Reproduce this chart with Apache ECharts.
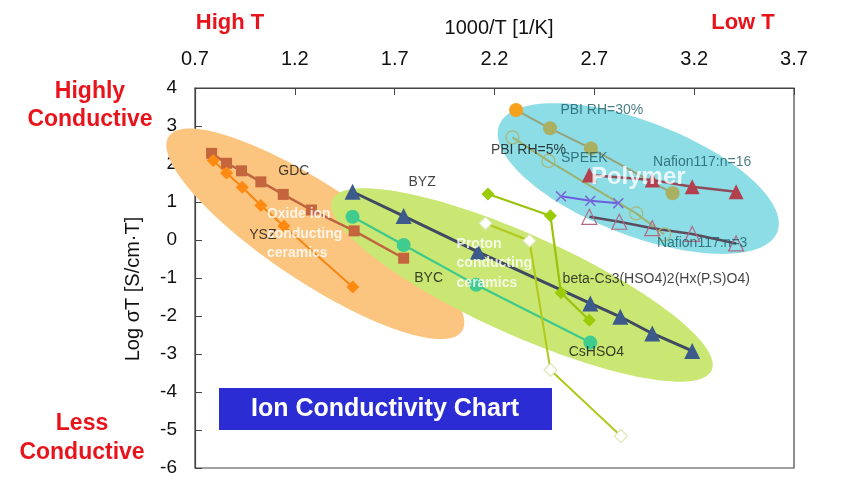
<!DOCTYPE html>
<html><head><meta charset="utf-8">
<script src="https://cdn.jsdelivr.net/npm/echarts@6/dist/echarts.min.js"></script>
<style>html,body{margin:0;padding:0;background:#fff}#c{width:846px;height:493px}</style>
</head><body><div id="c"></div>
<script>
// ---- axis ticks ----
const xTicks = [0.7, 1.2, 1.7, 2.2, 2.7, 3.2, 3.7];
const yTicks = [-6, -5, -4, -3, -2, -1, 0, 1, 2, 3, 4];

// ---- series values (x = 1000/T, y = log sigma T) ----
const gdcX = [0.783, 0.858, 0.933, 1.03, 1.142, 1.283, 1.497, 1.745];
const gdcY = [2.28, 2.02, 1.82, 1.53, 1.20, 0.79, 0.24, -0.48];
const yszX = [0.791, 0.858, 0.937, 1.03, 1.145, 1.49];
const yszY = [2.09, 1.76, 1.39, 0.91, 0.37, -1.24];
const byzX = [1.489, 1.745, 2.117, 2.68, 2.83, 2.99, 3.19];
const byzY = [1.27, 0.63, -0.31, -1.67, -2.02, -2.46, -2.92];
const cshso4X = [1.489, 1.745, 2.108, 2.68];
const cshso4Y = [0.61, -0.13, -1.18, -2.70];
const betaX = [2.167, 2.48, 2.533, 2.675];
const betaY = [1.21, 0.64, -1.39, -2.11];
const betaOpenX = [2.155, 2.375, 2.48, 2.833];
const betaOpenY = [0.44, -0.02, -3.42, -5.16];
const pbi30X = [2.308, 2.478, 2.683, 3.092];
const pbi30Y = [3.42, 2.94, 2.41, 1.23];
const pbi5X = [2.29, 2.47, 2.91, 3.05];
const pbi5Y = [2.70, 2.08, 0.70, 0.15];
const speekX = [2.533, 2.68, 2.82];
const speekY = [1.15, 1.03, 0.97];
const naf16X = [2.675, 2.99, 3.19, 3.41];
const naf16Y = [1.71, 1.58, 1.40, 1.27];
const naf3X = [2.675, 2.825, 2.99, 3.19, 3.41];
const naf3Y = [0.61, 0.48, 0.31, 0.16, -0.09];

// ---- annotation labels (anchored in data units) ----
const labelNames = ['GDC', 'YSZ', 'BYZ', 'BYC', 'PBI RH=30%', 'PBI RH=5%', 'SPEEK', 'Nafion117:n=16', 'Nafion117:n=3', 'beta-Cs3(HSO4)2(Hx(P,S)O4)', 'CsHSO4'];
const labelX = [1.195, 1.04, 1.8375, 1.87, 2.7375, 2.37, 2.65, 3.24, 3.24, 3.01, 2.71];
const labelY = [1.80, 0.13, 1.53, -1.01, 3.42, 2.37, 2.15, 2.06, -0.09, -1.03, -2.94];
const regionNames = ['Oxide ion\nconducting\nceramics', 'Proton\nconducting\nceramics', 'Polymer'];
const regionX = [1.06, 2.01, 2.92];
const regionY = [0.16, -0.62, 1.66];

// ---- decorative group ellipses (centre in data units) ----
const ellipseCX = [1.3025, 2.3375, 2.92];
const ellipseCY = [0.163, -1.184, 1.618];
const ellipseStyle = [
  {rx: 176, ry: 48, rot: 33.6, color: '#fcc57f'},
  {rx: 208, ry: 50, rot: 24.2, color: '#c9e772'},
  {rx: 149, ry: 57, rot: 21.0, color: '#8cdde6'}
];

const zip = (xs, ys) => xs.map((x, i) => [x, ys[i]]);
const FONT = 'Arial, "Liberation Sans", sans-serif';

function lineSeries(name, xs, ys, o) {
  return {
    name: name, type: 'line', data: zip(xs, ys), z: 3,
    symbol: o.symbol, symbolSize: o.size, showSymbol: true,
    lineStyle: {color: o.line, width: o.lw || 2},
    itemStyle: {color: o.fill, borderColor: o.border || o.fill, borderWidth: o.bw || 0},
    emphasis: {disabled: true}
  };
}

const xPath = 'path://M0,1L1,0L5,4L9,0L10,1L6,5L10,9L9,10L5,6L1,10L0,9L4,5Z';

const pbi30Data = zip(pbi30X, pbi30Y).map((v, i) => i === 0 ? {value: v, itemStyle: {color: '#f6a01c'}} : v);

const labelColors = {'PBI RH=30%': '#1d5c64', 'SPEEK': '#1d5c64', 'Nafion117:n=16': '#1d5c64', 'Nafion117:n=3': '#1d5c64'};

const chart = echarts.init(document.getElementById('c'), null, {renderer: 'canvas'});
chart.setOption({
  animation: false,
  grid: {left: 195, right: 52, top: 88, bottom: 25, show: true, borderColor: '#444', borderWidth: 1.2},
  xAxis: {
    type: 'value', position: 'top', min: xTicks[0], max: xTicks[xTicks.length - 1], interval: 0.5,
    axisLine: {show: true, onZero: false, lineStyle: {color: '#444', width: 1.2}},
    axisTick: {show: true, inside: true, length: 7, lineStyle: {color: '#444'}},
    axisLabel: {fontSize: 20, color: '#111', fontFamily: FONT, margin: 19,
      formatter: v => { let best = xTicks[0]; xTicks.forEach(t => { if (Math.abs(t - v) < Math.abs(best - v)) best = t; }); return best.toFixed(1); }},
    splitLine: {show: false}
  },
  yAxis: {
    type: 'value', min: yTicks[0], max: yTicks[yTicks.length - 1], interval: 1,
    axisLine: {show: true, onZero: false, lineStyle: {color: '#444', width: 1.2}},
    axisTick: {show: true, inside: true, length: 7, lineStyle: {color: '#444'}},
    axisLabel: {fontSize: 19, color: '#111', fontFamily: FONT, margin: 18},
    splitLine: {show: false}
  },
  series: [
    {
      type: 'custom', name: 'regions', z: 1, silent: true, clip: false,
      data: zip(ellipseCX, ellipseCY),
      renderItem: function (params, api) {
        const e = ellipseStyle[params.dataIndex];
        const c = api.coord([api.value(0), api.value(1)]);
        const r = e.rot * Math.PI / 180, pts = [];
        for (let i = 0; i < 120; i++) {
          const t = 2 * Math.PI * i / 120;
          const px = e.rx * Math.cos(t), py = e.ry * Math.sin(t);
          pts.push([c[0] + px * Math.cos(r) - py * Math.sin(r), c[1] + px * Math.sin(r) + py * Math.cos(r)]);
        }
        return {type: 'polygon', shape: {points: pts}, style: {fill: e.color}};
      }
    },
    lineSeries('GDC', gdcX, gdcY, {symbol: 'rect', size: 11, line: '#bf6640', fill: '#c4653d', lw: 2.5}),
    lineSeries('YSZ', yszX, yszY, {symbol: 'diamond', size: 13, line: '#f7870f', fill: '#ff8a12', lw: 2}),
    lineSeries('BYZ', byzX, byzY, {symbol: 'triangle', size: 16, line: '#3f4a62', fill: '#3d5b8a', lw: 3}),
    lineSeries('CsHSO4', cshso4X, cshso4Y, {symbol: 'circle', size: 14, line: '#3ec98c', fill: '#40cc8e', lw: 2.2}),
    lineSeries('beta', betaX, betaY, {symbol: 'diamond', size: 13, line: '#99c20a', fill: '#9acb06', lw: 2.2}),
    lineSeries('beta open', betaOpenX, betaOpenY, {symbol: 'diamond', size: 13, line: '#b2c81c', fill: '#ffffff', border: '#dde7b4', bw: 1.2, lw: 2}),
    lineSeries('PBI RH=5%', pbi5X, pbi5Y, {symbol: 'circle', size: 13, line: '#9bb271', fill: 'rgba(0,0,0,0)', border: '#a9b77a', bw: 1.2, lw: 2}),
    Object.assign(lineSeries('PBI RH=30%', pbi30X, pbi30Y, {symbol: 'circle', size: 14, line: '#98a27a', fill: '#a9b062', lw: 2}), {data: pbi30Data}),
    lineSeries('SPEEK', speekX, speekY, {symbol: xPath, size: 11, line: '#6b5fe0', fill: '#7a6ad8', lw: 2}),
    lineSeries('Nafion117:n=16', naf16X, naf16Y, {symbol: 'triangle', size: 15, line: '#8e4b5a', fill: '#b3404f', lw: 2.5}),
    lineSeries('Nafion117:n=3', naf3X, naf3Y, {symbol: 'triangle', size: 15, line: '#5c4c5e', fill: 'rgba(0,0,0,0)', border: '#b06a86', bw: 1.2, lw: 2.5}),
    {
      type: 'scatter', name: 'labels', z: 5, silent: true, symbolSize: 0,
      data: labelNames.map((n, i) => ({value: [labelX[i], labelY[i]], name: n, label: {color: labelColors[n] || '#111'}})),
      label: {show: true, position: 'inside', formatter: p => p.name, fontSize: 14, fontFamily: FONT},
      labelLayout: {hideOverlap: false}
    },
    {
      type: 'scatter', name: 'regionLabels', z: 6, silent: true, symbolSize: 0,
      data: regionNames.map((n, i) => ({
        value: [regionX[i], regionY[i]], name: n,
        label: n === 'Polymer'
          ? {position: 'inside', fontSize: 24, align: 'center', verticalAlign: 'middle'}
          : {position: [0, 0], fontSize: 14, lineHeight: 19.5, align: 'left', verticalAlign: 'middle'}
      })),
      label: {show: true, formatter: p => p.name, fontFamily: FONT, fontWeight: 'bold', color: '#ffffff'}
    }
  ],
  graphic: [
    {type: 'text', x: 230, y: 23, style: {text: 'High T', fill: '#e8141c', font: 'bold 22px ' + FONT, align: 'center', verticalAlign: 'middle'}},
    {type: 'text', x: 743, y: 23, style: {text: 'Low T', fill: '#e8141c', font: 'bold 22px ' + FONT, align: 'center', verticalAlign: 'middle'}},
    {type: 'text', x: 499, y: 28, style: {text: '1000/T [1/K]', fill: '#111', font: '20px ' + FONT, align: 'center', verticalAlign: 'middle'}},
    {type: 'text', x: 90, y: 106, style: {text: 'Highly\nConductive', fill: '#e8141c', font: 'bold 23px ' + FONT, lineHeight: 28, align: 'center', verticalAlign: 'middle'}},
    {type: 'text', x: 82, y: 438, style: {text: 'Less\nConductive', fill: '#e8141c', font: 'bold 23px ' + FONT, lineHeight: 29, align: 'center', verticalAlign: 'middle'}},
    {type: 'text', x: 133, y: 289, rotation: Math.PI / 2, style: {text: 'Log σT [S/cm·T]', fill: '#111', font: '20px ' + FONT, align: 'center', verticalAlign: 'middle'}},
    {type: 'rect', z: 10, shape: {x: 219, y: 388, width: 333, height: 42}, style: {fill: '#2c2cd4'}},
    {type: 'text', z: 11, x: 385, y: 409, style: {text: 'Ion Conductivity Chart', fill: '#ffffff', font: 'bold 25px ' + FONT, align: 'center', verticalAlign: 'middle'}}
  ]
});
</script>
</body></html>
